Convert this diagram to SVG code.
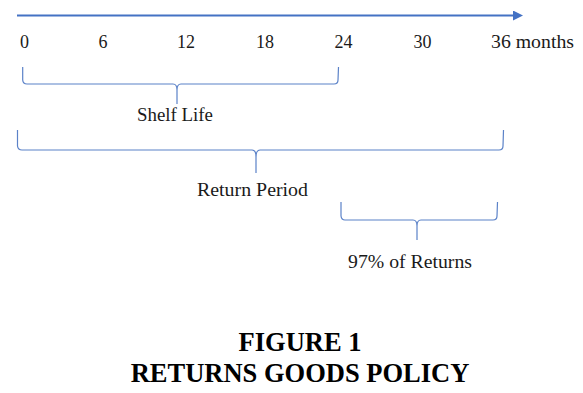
<svg xmlns="http://www.w3.org/2000/svg" width="583" height="393" viewBox="0 0 583 393">
<defs>
<style>
.t{font-family:"Liberation Serif","Times New Roman",serif;font-size:18px;fill:#1a1a1a}
.tick{text-anchor:middle}
.lbl{text-anchor:middle}
.title{font-family:"Liberation Serif","Times New Roman",serif;font-size:26.5px;font-weight:bold;fill:#000;text-anchor:middle}
.brace{fill:none;stroke:#5b82c8;stroke-width:1.2}
.axis{stroke:#4472c4;stroke-width:1.8;fill:none}
</style>
<marker id="ah" markerWidth="10" markerHeight="10" refX="0" refY="5" orient="auto" markerUnits="userSpaceOnUse">
<path d="M0,0 L10,5 L0,10 Z" fill="#4472c4"/>
</marker>
</defs>
<rect width="583" height="393" fill="#fff"/>
<g id="connectors">
<line id="axis" class="axis" x1="17" y1="15.5" x2="513" y2="15.5" marker-end="url(#ah)"/>
<path id="brace-shelf" class="brace" d="M22.7,67 L22.7,80 Q23,84 27,84 L173,84 Q177,84 177,90 L177,104 M177,90 Q177,84 181,84 L334,84 Q338,84 338,80 L338.5,67"/>
<path id="brace-return" class="brace" d="M17.5,130 L17.5,146 Q18,150 22,150 L252,150 Q256,150 256,157 L256,173 M256,157 Q256,150 260,150 L499,150 Q503,150 503,146 L503.5,130"/>
<path id="brace-97" class="brace" d="M341,202 L341,216 Q341.5,220 345,220 L413,220 Q417,220 417,226 L417,240 M417,226 Q417,220 421,220 L493,220 Q497,220 497,216 L497.5,202"/>
</g>
<g id="ticks">
<text class="t tick" x="24.5" y="48">0</text>
<text class="t tick" x="103" y="48">6</text>
<text class="t tick" x="186" y="48">12</text>
<text class="t tick" x="265" y="48">18</text>
<text class="t tick" x="343.5" y="48">24</text>
<text class="t tick" x="422.5" y="48">30</text>
<text class="t" x="491" y="48" textLength="83" lengthAdjust="spacingAndGlyphs">36 months</text>
</g>
<g id="node-shelf-life">
<text class="t" x="137" y="121" textLength="76" lengthAdjust="spacingAndGlyphs">Shelf Life</text>
</g>
<g id="node-return-period">
<text class="t" x="197" y="196" textLength="111" lengthAdjust="spacingAndGlyphs">Return Period</text>
</g>
<g id="node-97">
<text class="t" x="348" y="268" textLength="124" lengthAdjust="spacingAndGlyphs">97% of Returns</text>
</g>
<g id="caption">
<text class="title" x="300" y="351">FIGURE 1</text>
<text class="title" x="300" y="382">RETURNS GOODS POLICY</text>
</g>
</svg>
